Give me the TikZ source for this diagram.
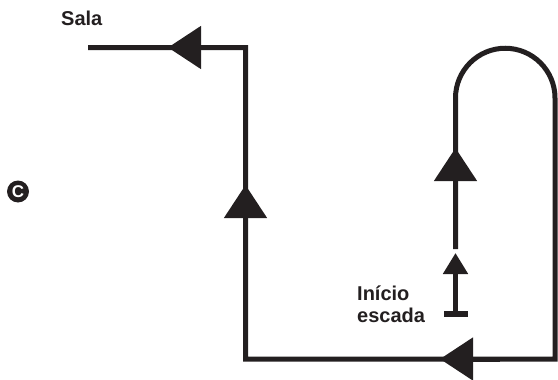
\documentclass[tikz,border=0pt]{standalone}
\usepackage{fontspec}
\setmainfont{Liberation Sans}
\usetikzlibrary{arrows.meta}
\definecolor{ink}{RGB}{35,31,32}
\tikzset{
  route/.style={line width=5pt, draw=ink, line join=miter},
  headtip/.style={route, -{Triangle[length=33pt,width=42pt]}},
  place/.style={font=\bfseries\fontsize{20}{22}\selectfont, text=ink, inner sep=0pt, anchor=base west},
}
\begin{document}
\begin{tikzpicture}[x=1pt,y=-1pt]
    \useasboundingbox (0,0) rectangle (558,380);
    % corners of the way
    \coordinate (salaend) at (88,47.5);
    \coordinate (topcorner) at (245.5,47.5);
    \coordinate (lowcorner) at (245.5,359);
    \coordinate (rightcorner) at (555,359);
    \coordinate (loopright) at (555,98);
    \coordinate (loopleft) at (455.5,98);
    \coordinate (stairtop) at (455.5,249);
    \coordinate (stairbar) at (455.5,317);
    \coordinate (stairtip) at (455.5,253);
    % labels
    \node[place] (sala) at (61,25.7) {Sala};
    \node[place] (inicio) at (357,300) {Início};
    \node[place] (escada) at (357,322) {escada};
    \node[circle, fill=ink, minimum size=22pt, inner sep=0pt, text=white,
          font=\bfseries\fontsize{17}{17}\selectfont] (marca) at (18,191.5) {C};
    % the way
    \draw[route] (stairtop) -- (loopleft)
        arc[start angle=180, end angle=360, radius=49.75] -- (rightcorner)
        -- (lowcorner) -- (topcorner) -- (salaend);
    \draw[route, {Bar[width=24pt,line width=6pt]}-{Triangle[length=21pt,width=24pt]}] (stairbar) -- (stairtip);
    % direction heads
    \draw[headtip] (455.5,200) -- (455.5,148);
    \draw[headtip] (500,359) -- (440,359);
    \draw[headtip] (245.5,240) -- (245.5,185);
    \draw[headtip] (220,47.5) -- (168,47.5);
\end{tikzpicture}
\end{document}
